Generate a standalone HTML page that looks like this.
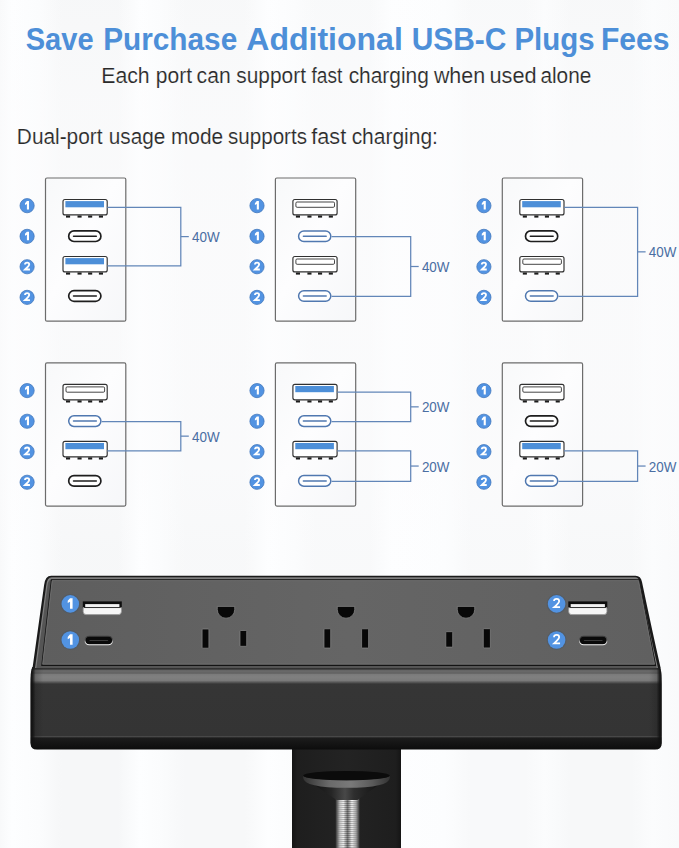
<!DOCTYPE html>
<html><head><meta charset="utf-8"><style>
html,body{margin:0;padding:0;background:#fafafa;}
svg{display:block;font-family:"Liberation Sans",sans-serif;}
</style></head><body>
<svg width="679" height="848" viewBox="0 0 679 848">
<defs>
<linearGradient id="bg" x1="0" y1="0" x2="1" y2="0"><stop offset="0.0000" stop-color="rgb(248,249,250)"/><stop offset="0.0177" stop-color="rgb(253,254,255)"/><stop offset="0.0589" stop-color="rgb(251,252,253)"/><stop offset="0.0913" stop-color="rgb(246,247,248)"/><stop offset="0.1738" stop-color="rgb(246,247,248)"/><stop offset="0.2062" stop-color="rgb(253,254,255)"/><stop offset="0.2356" stop-color="rgb(251,252,253)"/><stop offset="0.2725" stop-color="rgb(247,248,249)"/><stop offset="0.3608" stop-color="rgb(247,248,249)"/><stop offset="0.3947" stop-color="rgb(253,254,255)"/><stop offset="0.4345" stop-color="rgb(251,252,253)"/><stop offset="0.4639" stop-color="rgb(248,249,250)"/><stop offset="0.5449" stop-color="rgb(248,249,250)"/><stop offset="0.5773" stop-color="rgb(253,254,255)"/><stop offset="0.6554" stop-color="rgb(252,253,254)"/><stop offset="0.6922" stop-color="rgb(248,249,250)"/><stop offset="0.7732" stop-color="rgb(248,249,250)"/><stop offset="0.8027" stop-color="rgb(251,252,253)"/><stop offset="0.8395" stop-color="rgb(247,248,249)"/><stop offset="0.9308" stop-color="rgb(247,248,249)"/><stop offset="0.9602" stop-color="rgb(251,252,253)"/><stop offset="1.0000" stop-color="rgb(249,250,251)"/></linearGradient>
<linearGradient id="boxg" x1="0" y1="0" x2="1" y2="1"><stop offset="0" stop-color="#f8f9fa"/><stop offset="0.45" stop-color="#fdfdfe"/><stop offset="1" stop-color="#f6f7f9"/></linearGradient>
<linearGradient id="frontg" x1="0" y1="667" x2="0" y2="749.6" gradientUnits="userSpaceOnUse"><stop offset="0.0000" stop-color="#303030"/><stop offset="0.0157" stop-color="#3a3a3a"/><stop offset="0.0303" stop-color="#444444"/><stop offset="0.0387" stop-color="#646464"/><stop offset="0.0630" stop-color="#6a6a6a"/><stop offset="0.0726" stop-color="#5a5a5a"/><stop offset="0.0872" stop-color="#7a7a7a"/><stop offset="0.1211" stop-color="#808080"/><stop offset="0.1634" stop-color="#7a7a7a"/><stop offset="0.2058" stop-color="#363636"/><stop offset="0.2785" stop-color="#353535"/><stop offset="0.8305" stop-color="#343434"/><stop offset="0.8426" stop-color="#4a4a4a"/><stop offset="0.8596" stop-color="#1c1c1c"/><stop offset="1.0000" stop-color="#0c0c0c"/></linearGradient>
<linearGradient id="topg" x1="0" y1="0" x2="1" y2="0"><stop offset="0" stop-color="#5e5e5e"/><stop offset="0.5" stop-color="#656565"/><stop offset="1" stop-color="#606060"/></linearGradient>
<linearGradient id="clampg" x1="0" y1="0" x2="1" y2="0"><stop offset="0" stop-color="#151515"/><stop offset="0.05" stop-color="#1e1e1e"/><stop offset="0.5" stop-color="#232323"/><stop offset="0.95" stop-color="#1e1e1e"/><stop offset="1" stop-color="#151515"/></linearGradient>
<linearGradient id="screwg" x1="0" y1="0" x2="1" y2="0"><stop offset="0" stop-color="#333"/><stop offset="0.18" stop-color="#ddd"/><stop offset="0.32" stop-color="#fff"/><stop offset="0.5" stop-color="#777"/><stop offset="0.68" stop-color="#fff"/><stop offset="0.85" stop-color="#bbb"/><stop offset="1" stop-color="#333"/></linearGradient>
<linearGradient id="rimg" x1="0" y1="0" x2="1" y2="0"><stop offset="0" stop-color="#333"/><stop offset="0.3" stop-color="#6a6a6a"/><stop offset="0.55" stop-color="#7a7a7a"/><stop offset="0.8" stop-color="#5a5a5a"/><stop offset="1" stop-color="#333"/></linearGradient>
<linearGradient id="coneg" x1="0" y1="0" x2="1" y2="0"><stop offset="0" stop-color="#0e0e0e"/><stop offset="0.3" stop-color="#262626"/><stop offset="0.48" stop-color="#484848"/><stop offset="0.6" stop-color="#2e2e2e"/><stop offset="1" stop-color="#0e0e0e"/></linearGradient>
<linearGradient id="usbcg" x1="0" y1="0" x2="0" y2="1"><stop offset="0" stop-color="#3a3a3a"/><stop offset="0.45" stop-color="#555"/><stop offset="0.75" stop-color="#e0e0e0"/><stop offset="1" stop-color="#f0f0f0"/></linearGradient>
<linearGradient id="edgeg" x1="30.6" y1="0" x2="661.6" y2="0" gradientUnits="userSpaceOnUse"><stop offset="0" stop-color="#111" stop-opacity="1"/><stop offset="0.0035" stop-color="#111" stop-opacity="0.85"/><stop offset="0.008" stop-color="#111" stop-opacity="0.2"/><stop offset="0.02" stop-color="#111" stop-opacity="0"/><stop offset="0.98" stop-color="#111" stop-opacity="0"/><stop offset="0.992" stop-color="#111" stop-opacity="0.2"/><stop offset="0.9965" stop-color="#111" stop-opacity="0.85"/><stop offset="1" stop-color="#111" stop-opacity="1"/></linearGradient>
<linearGradient id="bgmask" x1="0" y1="0" x2="0" y2="1"><stop offset="0" stop-color="#fcfcfd" stop-opacity="0.1"/><stop offset="0.12" stop-color="#fcfcfd" stop-opacity="0.45"/><stop offset="0.3" stop-color="#fcfcfd" stop-opacity="0.6"/><stop offset="0.55" stop-color="#fcfcfd" stop-opacity="0.5"/><stop offset="0.65" stop-color="#fcfcfd" stop-opacity="0.1"/><stop offset="1" stop-color="#fcfcfd" stop-opacity="0"/></linearGradient>
</defs>
<rect x="0" y="0" width="679" height="848" fill="url(#bg)"/>
<rect x="0" y="0" width="679" height="848" fill="url(#bgmask)"/>
<text x="25.69" y="50" font-size="32" font-weight="bold" fill="#4d8fd8" textLength="67.88" lengthAdjust="spacingAndGlyphs">Save</text><text x="103.14" y="50" font-size="32" font-weight="bold" fill="#4d8fd8" textLength="134.06" lengthAdjust="spacingAndGlyphs">Purchase</text><text x="246.30" y="50" font-size="32" font-weight="bold" fill="#4d8fd8" textLength="156.52" lengthAdjust="spacingAndGlyphs">Additional</text><text x="411.63" y="50" font-size="32" font-weight="bold" fill="#4d8fd8" textLength="94.81" lengthAdjust="spacingAndGlyphs">USB-C</text><text x="514.46" y="50" font-size="32" font-weight="bold" fill="#4d8fd8" textLength="80.18" lengthAdjust="spacingAndGlyphs">Plugs</text><text x="600.92" y="50" font-size="32" font-weight="bold" fill="#4d8fd8" textLength="68.67" lengthAdjust="spacingAndGlyphs">Fees</text>
<text x="101.23" y="82.6" font-size="21.6" font-weight="normal" fill="#2a2a2a" textLength="48.47" lengthAdjust="spacingAndGlyphs" stroke="#fafbfc" stroke-width="0.15">Each</text><text x="155.83" y="82.6" font-size="21.6" font-weight="normal" fill="#2a2a2a" textLength="36.18" lengthAdjust="spacingAndGlyphs" stroke="#fafbfc" stroke-width="0.15">port</text><text x="196.62" y="82.6" font-size="21.6" font-weight="normal" fill="#2a2a2a" textLength="34.07" lengthAdjust="spacingAndGlyphs" stroke="#fafbfc" stroke-width="0.15">can</text><text x="236.33" y="82.6" font-size="21.6" font-weight="normal" fill="#2a2a2a" textLength="69.60" lengthAdjust="spacingAndGlyphs" stroke="#fafbfc" stroke-width="0.15">support</text><text x="311.50" y="82.6" font-size="21.6" font-weight="normal" fill="#2a2a2a" textLength="30.73" lengthAdjust="spacingAndGlyphs" stroke="#fafbfc" stroke-width="0.15">fast</text><text x="348.63" y="82.6" font-size="21.6" font-weight="normal" fill="#2a2a2a" textLength="80.15" lengthAdjust="spacingAndGlyphs" stroke="#fafbfc" stroke-width="0.15">charging</text><text x="433.90" y="82.6" font-size="21.6" font-weight="normal" fill="#2a2a2a" textLength="51.21" lengthAdjust="spacingAndGlyphs" stroke="#fafbfc" stroke-width="0.15">when</text><text x="489.49" y="82.6" font-size="21.6" font-weight="normal" fill="#2a2a2a" textLength="47.15" lengthAdjust="spacingAndGlyphs" stroke="#fafbfc" stroke-width="0.15">used</text><text x="540.44" y="82.6" font-size="21.6" font-weight="normal" fill="#2a2a2a" textLength="50.88" lengthAdjust="spacingAndGlyphs" stroke="#fafbfc" stroke-width="0.15">alone</text>
<text x="16.87" y="143.8" font-size="21.6" font-weight="normal" fill="#2a2a2a" textLength="85.65" lengthAdjust="spacingAndGlyphs" stroke="#fafbfc" stroke-width="0.15">Dual-port</text><text x="108.74" y="143.8" font-size="21.6" font-weight="normal" fill="#2a2a2a" textLength="56.57" lengthAdjust="spacingAndGlyphs" stroke="#fafbfc" stroke-width="0.15">usage</text><text x="170.93" y="143.8" font-size="21.6" font-weight="normal" fill="#2a2a2a" textLength="52.26" lengthAdjust="spacingAndGlyphs" stroke="#fafbfc" stroke-width="0.15">mode</text><text x="228.05" y="143.8" font-size="21.6" font-weight="normal" fill="#2a2a2a" textLength="78.94" lengthAdjust="spacingAndGlyphs" stroke="#fafbfc" stroke-width="0.15">supports</text><text x="311.30" y="143.8" font-size="21.6" font-weight="normal" fill="#2a2a2a" textLength="34.91" lengthAdjust="spacingAndGlyphs" stroke="#fafbfc" stroke-width="0.15">fast</text><text x="351.63" y="143.8" font-size="21.6" font-weight="normal" fill="#2a2a2a" textLength="86.26" lengthAdjust="spacingAndGlyphs" stroke="#fafbfc" stroke-width="0.15">charging:</text>
<rect x="45.5" y="178.0" width="80.3" height="143.2" rx="1.5" fill="url(#boxg)" stroke="#6c6c6c" stroke-width="1.2"/><circle cx="27.1" cy="205.7" r="7.10" fill="#5293e2" stroke="#4479bd" stroke-width="0.8"/><path transform="translate(27.20 205.70) scale(1.0)" d="M-0.3 -4.65 H1.8 V3.9 H-0.3 V-1.7 L-2.2 -0.7 V-2.55 Z" fill="#fff"/><circle cx="27.1" cy="236.35" r="7.10" fill="#5293e2" stroke="#4479bd" stroke-width="0.8"/><path transform="translate(27.20 236.35) scale(1.0)" d="M-0.3 -4.65 H1.8 V3.9 H-0.3 V-1.7 L-2.2 -0.7 V-2.55 Z" fill="#fff"/><circle cx="27.1" cy="266.75" r="7.10" fill="#5293e2" stroke="#4479bd" stroke-width="0.8"/><path transform="translate(27.20 266.75) scale(1.0)" d="M-2.2 -2.3 C-2.2 -3.9 -1.1 -4.2 0 -4.2 C1.2 -4.2 2.0 -3.45 2.0 -2.25 C2.0 -0.95 1.0 -0.2 -2.1 2.7 H2.75" fill="none" stroke="#fff" stroke-width="1.85" stroke-linejoin="miter"/><circle cx="27.1" cy="297.35" r="7.10" fill="#5293e2" stroke="#4479bd" stroke-width="0.8"/><path transform="translate(27.20 297.35) scale(1.0)" d="M-2.2 -2.3 C-2.2 -3.9 -1.1 -4.2 0 -4.2 C1.2 -4.2 2.0 -3.45 2.0 -2.25 C2.0 -0.95 1.0 -0.2 -2.1 2.7 H2.75" fill="none" stroke="#fff" stroke-width="1.85" stroke-linejoin="miter"/><rect x="63.00" y="199.50" width="44.2" height="15.4" rx="2" fill="#fff" stroke="#303030" stroke-width="1.15"/><rect x="66.00" y="215.50" width="4.1" height="2.1" fill="#1c1c1c"/><rect x="77.50" y="215.50" width="4.1" height="2.1" fill="#1c1c1c"/><rect x="88.10" y="215.50" width="4.1" height="2.1" fill="#1c1c1c"/><rect x="98.90" y="215.50" width="4.1" height="2.1" fill="#1c1c1c"/><rect x="65.40" y="201.10" width="38.6" height="6.2" fill="#4d8fd8"/><rect x="68.70" y="230.90" width="32.2" height="10.6" rx="5.3" fill="#fff" stroke="#1e1e1e" stroke-width="1.7"/><line x1="73.50" y1="236.20" x2="96.30" y2="236.20" stroke="#1e1e1e" stroke-width="1.5" stroke-linecap="round"/><rect x="63.00" y="256.50" width="44.2" height="15.4" rx="2" fill="#fff" stroke="#303030" stroke-width="1.15"/><rect x="66.00" y="272.50" width="4.1" height="2.1" fill="#1c1c1c"/><rect x="77.50" y="272.50" width="4.1" height="2.1" fill="#1c1c1c"/><rect x="88.10" y="272.50" width="4.1" height="2.1" fill="#1c1c1c"/><rect x="98.90" y="272.50" width="4.1" height="2.1" fill="#1c1c1c"/><rect x="65.40" y="258.10" width="38.6" height="6.2" fill="#4d8fd8"/><rect x="68.70" y="290.70" width="32.2" height="10.6" rx="5.3" fill="#fff" stroke="#1e1e1e" stroke-width="1.7"/><line x1="73.50" y1="296.00" x2="96.30" y2="296.00" stroke="#1e1e1e" stroke-width="1.5" stroke-linecap="round"/><path d="M107.30 207.30 H180.80 V265.90 H107.30" fill="none" stroke="#6286b8" stroke-width="1.25"/><line x1="180.80" y1="236.60" x2="188.80" y2="236.60" stroke="#6286b8" stroke-width="1.25"/><text x="192.00" y="242.20" font-size="14" fill="#4a6ea3" textLength="27.6" lengthAdjust="spacingAndGlyphs">40W</text>
<rect x="275.4" y="178.0" width="80.3" height="143.2" rx="1.5" fill="url(#boxg)" stroke="#6c6c6c" stroke-width="1.2"/><circle cx="257.0" cy="205.7" r="7.10" fill="#5293e2" stroke="#4479bd" stroke-width="0.8"/><path transform="translate(257.10 205.70) scale(1.0)" d="M-0.3 -4.65 H1.8 V3.9 H-0.3 V-1.7 L-2.2 -0.7 V-2.55 Z" fill="#fff"/><circle cx="257.0" cy="236.35" r="7.10" fill="#5293e2" stroke="#4479bd" stroke-width="0.8"/><path transform="translate(257.10 236.35) scale(1.0)" d="M-0.3 -4.65 H1.8 V3.9 H-0.3 V-1.7 L-2.2 -0.7 V-2.55 Z" fill="#fff"/><circle cx="257.0" cy="266.75" r="7.10" fill="#5293e2" stroke="#4479bd" stroke-width="0.8"/><path transform="translate(257.10 266.75) scale(1.0)" d="M-2.2 -2.3 C-2.2 -3.9 -1.1 -4.2 0 -4.2 C1.2 -4.2 2.0 -3.45 2.0 -2.25 C2.0 -0.95 1.0 -0.2 -2.1 2.7 H2.75" fill="none" stroke="#fff" stroke-width="1.85" stroke-linejoin="miter"/><circle cx="257.0" cy="297.35" r="7.10" fill="#5293e2" stroke="#4479bd" stroke-width="0.8"/><path transform="translate(257.10 297.35) scale(1.0)" d="M-2.2 -2.3 C-2.2 -3.9 -1.1 -4.2 0 -4.2 C1.2 -4.2 2.0 -3.45 2.0 -2.25 C2.0 -0.95 1.0 -0.2 -2.1 2.7 H2.75" fill="none" stroke="#fff" stroke-width="1.85" stroke-linejoin="miter"/><rect x="292.90" y="199.50" width="44.2" height="15.4" rx="2" fill="#fff" stroke="#303030" stroke-width="1.15"/><rect x="295.90" y="215.50" width="4.1" height="2.1" fill="#1c1c1c"/><rect x="307.40" y="215.50" width="4.1" height="2.1" fill="#1c1c1c"/><rect x="318.00" y="215.50" width="4.1" height="2.1" fill="#1c1c1c"/><rect x="328.80" y="215.50" width="4.1" height="2.1" fill="#1c1c1c"/><rect x="295.90" y="202.00" width="38.6" height="5.3" rx="1.2" fill="#fff" stroke="#3c3c3c" stroke-width="0.95"/><rect x="298.60" y="230.90" width="32.2" height="10.6" rx="5.3" fill="#fff" stroke="#5078b0" stroke-width="1.5"/><line x1="303.40" y1="236.20" x2="326.20" y2="236.20" stroke="#5078b0" stroke-width="1.5" stroke-linecap="round"/><rect x="292.90" y="256.50" width="44.2" height="15.4" rx="2" fill="#fff" stroke="#303030" stroke-width="1.15"/><rect x="295.90" y="272.50" width="4.1" height="2.1" fill="#1c1c1c"/><rect x="307.40" y="272.50" width="4.1" height="2.1" fill="#1c1c1c"/><rect x="318.00" y="272.50" width="4.1" height="2.1" fill="#1c1c1c"/><rect x="328.80" y="272.50" width="4.1" height="2.1" fill="#1c1c1c"/><rect x="295.90" y="259.00" width="38.6" height="5.3" rx="1.2" fill="#fff" stroke="#3c3c3c" stroke-width="0.95"/><rect x="298.60" y="290.70" width="32.2" height="10.6" rx="5.3" fill="#fff" stroke="#5078b0" stroke-width="1.5"/><line x1="303.40" y1="296.00" x2="326.20" y2="296.00" stroke="#5078b0" stroke-width="1.5" stroke-linecap="round"/><path d="M331.60 236.60 H410.70 V296.40 H331.60" fill="none" stroke="#6286b8" stroke-width="1.25"/><line x1="410.70" y1="266.50" x2="418.70" y2="266.50" stroke="#6286b8" stroke-width="1.25"/><text x="421.90" y="272.10" font-size="14" fill="#4a6ea3" textLength="27.6" lengthAdjust="spacingAndGlyphs">40W</text>
<rect x="502.3" y="178.0" width="80.3" height="143.2" rx="1.5" fill="url(#boxg)" stroke="#6c6c6c" stroke-width="1.2"/><circle cx="483.90000000000003" cy="205.7" r="7.10" fill="#5293e2" stroke="#4479bd" stroke-width="0.8"/><path transform="translate(484.00 205.70) scale(1.0)" d="M-0.3 -4.65 H1.8 V3.9 H-0.3 V-1.7 L-2.2 -0.7 V-2.55 Z" fill="#fff"/><circle cx="483.90000000000003" cy="236.35" r="7.10" fill="#5293e2" stroke="#4479bd" stroke-width="0.8"/><path transform="translate(484.00 236.35) scale(1.0)" d="M-0.3 -4.65 H1.8 V3.9 H-0.3 V-1.7 L-2.2 -0.7 V-2.55 Z" fill="#fff"/><circle cx="483.90000000000003" cy="266.75" r="7.10" fill="#5293e2" stroke="#4479bd" stroke-width="0.8"/><path transform="translate(484.00 266.75) scale(1.0)" d="M-2.2 -2.3 C-2.2 -3.9 -1.1 -4.2 0 -4.2 C1.2 -4.2 2.0 -3.45 2.0 -2.25 C2.0 -0.95 1.0 -0.2 -2.1 2.7 H2.75" fill="none" stroke="#fff" stroke-width="1.85" stroke-linejoin="miter"/><circle cx="483.90000000000003" cy="297.35" r="7.10" fill="#5293e2" stroke="#4479bd" stroke-width="0.8"/><path transform="translate(484.00 297.35) scale(1.0)" d="M-2.2 -2.3 C-2.2 -3.9 -1.1 -4.2 0 -4.2 C1.2 -4.2 2.0 -3.45 2.0 -2.25 C2.0 -0.95 1.0 -0.2 -2.1 2.7 H2.75" fill="none" stroke="#fff" stroke-width="1.85" stroke-linejoin="miter"/><rect x="519.80" y="199.50" width="44.2" height="15.4" rx="2" fill="#fff" stroke="#303030" stroke-width="1.15"/><rect x="522.80" y="215.50" width="4.1" height="2.1" fill="#1c1c1c"/><rect x="534.30" y="215.50" width="4.1" height="2.1" fill="#1c1c1c"/><rect x="544.90" y="215.50" width="4.1" height="2.1" fill="#1c1c1c"/><rect x="555.70" y="215.50" width="4.1" height="2.1" fill="#1c1c1c"/><rect x="522.20" y="201.10" width="38.6" height="6.2" fill="#4d8fd8"/><rect x="525.50" y="230.90" width="32.2" height="10.6" rx="5.3" fill="#fff" stroke="#1e1e1e" stroke-width="1.7"/><line x1="530.30" y1="236.20" x2="553.10" y2="236.20" stroke="#1e1e1e" stroke-width="1.5" stroke-linecap="round"/><rect x="519.80" y="256.50" width="44.2" height="15.4" rx="2" fill="#fff" stroke="#303030" stroke-width="1.15"/><rect x="522.80" y="272.50" width="4.1" height="2.1" fill="#1c1c1c"/><rect x="534.30" y="272.50" width="4.1" height="2.1" fill="#1c1c1c"/><rect x="544.90" y="272.50" width="4.1" height="2.1" fill="#1c1c1c"/><rect x="555.70" y="272.50" width="4.1" height="2.1" fill="#1c1c1c"/><rect x="522.80" y="259.00" width="38.6" height="5.3" rx="1.2" fill="#fff" stroke="#3c3c3c" stroke-width="0.95"/><rect x="525.50" y="290.70" width="32.2" height="10.6" rx="5.3" fill="#fff" stroke="#5078b0" stroke-width="1.5"/><line x1="530.30" y1="296.00" x2="553.10" y2="296.00" stroke="#5078b0" stroke-width="1.5" stroke-linecap="round"/><path d="M564.10 207.30 H637.60 V296.40 H558.50" fill="none" stroke="#6286b8" stroke-width="1.25"/><line x1="637.60" y1="251.85" x2="645.60" y2="251.85" stroke="#6286b8" stroke-width="1.25"/><text x="648.80" y="257.45" font-size="14" fill="#4a6ea3" textLength="27.6" lengthAdjust="spacingAndGlyphs">40W</text>
<rect x="45.5" y="362.9" width="80.3" height="143.2" rx="1.5" fill="url(#boxg)" stroke="#6c6c6c" stroke-width="1.2"/><circle cx="27.1" cy="390.59999999999997" r="7.10" fill="#5293e2" stroke="#4479bd" stroke-width="0.8"/><path transform="translate(27.20 390.60) scale(1.0)" d="M-0.3 -4.65 H1.8 V3.9 H-0.3 V-1.7 L-2.2 -0.7 V-2.55 Z" fill="#fff"/><circle cx="27.1" cy="421.25" r="7.10" fill="#5293e2" stroke="#4479bd" stroke-width="0.8"/><path transform="translate(27.20 421.25) scale(1.0)" d="M-0.3 -4.65 H1.8 V3.9 H-0.3 V-1.7 L-2.2 -0.7 V-2.55 Z" fill="#fff"/><circle cx="27.1" cy="451.65" r="7.10" fill="#5293e2" stroke="#4479bd" stroke-width="0.8"/><path transform="translate(27.20 451.65) scale(1.0)" d="M-2.2 -2.3 C-2.2 -3.9 -1.1 -4.2 0 -4.2 C1.2 -4.2 2.0 -3.45 2.0 -2.25 C2.0 -0.95 1.0 -0.2 -2.1 2.7 H2.75" fill="none" stroke="#fff" stroke-width="1.85" stroke-linejoin="miter"/><circle cx="27.1" cy="482.25" r="7.10" fill="#5293e2" stroke="#4479bd" stroke-width="0.8"/><path transform="translate(27.20 482.25) scale(1.0)" d="M-2.2 -2.3 C-2.2 -3.9 -1.1 -4.2 0 -4.2 C1.2 -4.2 2.0 -3.45 2.0 -2.25 C2.0 -0.95 1.0 -0.2 -2.1 2.7 H2.75" fill="none" stroke="#fff" stroke-width="1.85" stroke-linejoin="miter"/><rect x="63.00" y="384.40" width="44.2" height="15.4" rx="2" fill="#fff" stroke="#303030" stroke-width="1.15"/><rect x="66.00" y="400.40" width="4.1" height="2.1" fill="#1c1c1c"/><rect x="77.50" y="400.40" width="4.1" height="2.1" fill="#1c1c1c"/><rect x="88.10" y="400.40" width="4.1" height="2.1" fill="#1c1c1c"/><rect x="98.90" y="400.40" width="4.1" height="2.1" fill="#1c1c1c"/><rect x="66.00" y="386.90" width="38.6" height="5.3" rx="1.2" fill="#fff" stroke="#3c3c3c" stroke-width="0.95"/><rect x="68.70" y="415.80" width="32.2" height="10.6" rx="5.3" fill="#fff" stroke="#5078b0" stroke-width="1.5"/><line x1="73.50" y1="421.10" x2="96.30" y2="421.10" stroke="#5078b0" stroke-width="1.5" stroke-linecap="round"/><rect x="63.00" y="441.40" width="44.2" height="15.4" rx="2" fill="#fff" stroke="#303030" stroke-width="1.15"/><rect x="66.00" y="457.40" width="4.1" height="2.1" fill="#1c1c1c"/><rect x="77.50" y="457.40" width="4.1" height="2.1" fill="#1c1c1c"/><rect x="88.10" y="457.40" width="4.1" height="2.1" fill="#1c1c1c"/><rect x="98.90" y="457.40" width="4.1" height="2.1" fill="#1c1c1c"/><rect x="65.40" y="443.00" width="38.6" height="6.2" fill="#4d8fd8"/><rect x="68.70" y="475.60" width="32.2" height="10.6" rx="5.3" fill="#fff" stroke="#1e1e1e" stroke-width="1.7"/><line x1="73.50" y1="480.90" x2="96.30" y2="480.90" stroke="#1e1e1e" stroke-width="1.5" stroke-linecap="round"/><path d="M101.70 421.50 H180.80 V450.80 H107.30" fill="none" stroke="#6286b8" stroke-width="1.25"/><line x1="180.80" y1="436.15" x2="188.80" y2="436.15" stroke="#6286b8" stroke-width="1.25"/><text x="192.00" y="441.75" font-size="14" fill="#4a6ea3" textLength="27.6" lengthAdjust="spacingAndGlyphs">40W</text>
<rect x="275.4" y="362.9" width="80.3" height="143.2" rx="1.5" fill="url(#boxg)" stroke="#6c6c6c" stroke-width="1.2"/><circle cx="257.0" cy="390.59999999999997" r="7.10" fill="#5293e2" stroke="#4479bd" stroke-width="0.8"/><path transform="translate(257.10 390.60) scale(1.0)" d="M-0.3 -4.65 H1.8 V3.9 H-0.3 V-1.7 L-2.2 -0.7 V-2.55 Z" fill="#fff"/><circle cx="257.0" cy="421.25" r="7.10" fill="#5293e2" stroke="#4479bd" stroke-width="0.8"/><path transform="translate(257.10 421.25) scale(1.0)" d="M-0.3 -4.65 H1.8 V3.9 H-0.3 V-1.7 L-2.2 -0.7 V-2.55 Z" fill="#fff"/><circle cx="257.0" cy="451.65" r="7.10" fill="#5293e2" stroke="#4479bd" stroke-width="0.8"/><path transform="translate(257.10 451.65) scale(1.0)" d="M-2.2 -2.3 C-2.2 -3.9 -1.1 -4.2 0 -4.2 C1.2 -4.2 2.0 -3.45 2.0 -2.25 C2.0 -0.95 1.0 -0.2 -2.1 2.7 H2.75" fill="none" stroke="#fff" stroke-width="1.85" stroke-linejoin="miter"/><circle cx="257.0" cy="482.25" r="7.10" fill="#5293e2" stroke="#4479bd" stroke-width="0.8"/><path transform="translate(257.10 482.25) scale(1.0)" d="M-2.2 -2.3 C-2.2 -3.9 -1.1 -4.2 0 -4.2 C1.2 -4.2 2.0 -3.45 2.0 -2.25 C2.0 -0.95 1.0 -0.2 -2.1 2.7 H2.75" fill="none" stroke="#fff" stroke-width="1.85" stroke-linejoin="miter"/><rect x="292.90" y="384.40" width="44.2" height="15.4" rx="2" fill="#fff" stroke="#303030" stroke-width="1.15"/><rect x="295.90" y="400.40" width="4.1" height="2.1" fill="#1c1c1c"/><rect x="307.40" y="400.40" width="4.1" height="2.1" fill="#1c1c1c"/><rect x="318.00" y="400.40" width="4.1" height="2.1" fill="#1c1c1c"/><rect x="328.80" y="400.40" width="4.1" height="2.1" fill="#1c1c1c"/><rect x="295.30" y="386.00" width="38.6" height="6.2" fill="#4d8fd8"/><rect x="298.60" y="415.80" width="32.2" height="10.6" rx="5.3" fill="#fff" stroke="#5078b0" stroke-width="1.5"/><line x1="303.40" y1="421.10" x2="326.20" y2="421.10" stroke="#5078b0" stroke-width="1.5" stroke-linecap="round"/><rect x="292.90" y="441.40" width="44.2" height="15.4" rx="2" fill="#fff" stroke="#303030" stroke-width="1.15"/><rect x="295.90" y="457.40" width="4.1" height="2.1" fill="#1c1c1c"/><rect x="307.40" y="457.40" width="4.1" height="2.1" fill="#1c1c1c"/><rect x="318.00" y="457.40" width="4.1" height="2.1" fill="#1c1c1c"/><rect x="328.80" y="457.40" width="4.1" height="2.1" fill="#1c1c1c"/><rect x="295.30" y="443.00" width="38.6" height="6.2" fill="#4d8fd8"/><rect x="298.60" y="475.60" width="32.2" height="10.6" rx="5.3" fill="#fff" stroke="#5078b0" stroke-width="1.5"/><line x1="303.40" y1="480.90" x2="326.20" y2="480.90" stroke="#5078b0" stroke-width="1.5" stroke-linecap="round"/><path d="M337.20 392.20 H410.70 V421.50 H331.60" fill="none" stroke="#6286b8" stroke-width="1.25"/><line x1="410.70" y1="406.85" x2="418.70" y2="406.85" stroke="#6286b8" stroke-width="1.25"/><text x="421.90" y="412.45" font-size="14" fill="#4a6ea3" textLength="27.6" lengthAdjust="spacingAndGlyphs">20W</text><path d="M337.20 450.80 H410.70 V481.30 H331.60" fill="none" stroke="#6286b8" stroke-width="1.25"/><line x1="410.70" y1="466.05" x2="418.70" y2="466.05" stroke="#6286b8" stroke-width="1.25"/><text x="421.90" y="471.65" font-size="14" fill="#4a6ea3" textLength="27.6" lengthAdjust="spacingAndGlyphs">20W</text>
<rect x="502.3" y="362.9" width="80.3" height="143.2" rx="1.5" fill="url(#boxg)" stroke="#6c6c6c" stroke-width="1.2"/><circle cx="483.90000000000003" cy="390.59999999999997" r="7.10" fill="#5293e2" stroke="#4479bd" stroke-width="0.8"/><path transform="translate(484.00 390.60) scale(1.0)" d="M-0.3 -4.65 H1.8 V3.9 H-0.3 V-1.7 L-2.2 -0.7 V-2.55 Z" fill="#fff"/><circle cx="483.90000000000003" cy="421.25" r="7.10" fill="#5293e2" stroke="#4479bd" stroke-width="0.8"/><path transform="translate(484.00 421.25) scale(1.0)" d="M-0.3 -4.65 H1.8 V3.9 H-0.3 V-1.7 L-2.2 -0.7 V-2.55 Z" fill="#fff"/><circle cx="483.90000000000003" cy="451.65" r="7.10" fill="#5293e2" stroke="#4479bd" stroke-width="0.8"/><path transform="translate(484.00 451.65) scale(1.0)" d="M-2.2 -2.3 C-2.2 -3.9 -1.1 -4.2 0 -4.2 C1.2 -4.2 2.0 -3.45 2.0 -2.25 C2.0 -0.95 1.0 -0.2 -2.1 2.7 H2.75" fill="none" stroke="#fff" stroke-width="1.85" stroke-linejoin="miter"/><circle cx="483.90000000000003" cy="482.25" r="7.10" fill="#5293e2" stroke="#4479bd" stroke-width="0.8"/><path transform="translate(484.00 482.25) scale(1.0)" d="M-2.2 -2.3 C-2.2 -3.9 -1.1 -4.2 0 -4.2 C1.2 -4.2 2.0 -3.45 2.0 -2.25 C2.0 -0.95 1.0 -0.2 -2.1 2.7 H2.75" fill="none" stroke="#fff" stroke-width="1.85" stroke-linejoin="miter"/><rect x="519.80" y="384.40" width="44.2" height="15.4" rx="2" fill="#fff" stroke="#303030" stroke-width="1.15"/><rect x="522.80" y="400.40" width="4.1" height="2.1" fill="#1c1c1c"/><rect x="534.30" y="400.40" width="4.1" height="2.1" fill="#1c1c1c"/><rect x="544.90" y="400.40" width="4.1" height="2.1" fill="#1c1c1c"/><rect x="555.70" y="400.40" width="4.1" height="2.1" fill="#1c1c1c"/><rect x="522.80" y="386.90" width="38.6" height="5.3" rx="1.2" fill="#fff" stroke="#3c3c3c" stroke-width="0.95"/><rect x="525.50" y="415.80" width="32.2" height="10.6" rx="5.3" fill="#fff" stroke="#1e1e1e" stroke-width="1.7"/><line x1="530.30" y1="421.10" x2="553.10" y2="421.10" stroke="#1e1e1e" stroke-width="1.5" stroke-linecap="round"/><rect x="519.80" y="441.40" width="44.2" height="15.4" rx="2" fill="#fff" stroke="#303030" stroke-width="1.15"/><rect x="522.80" y="457.40" width="4.1" height="2.1" fill="#1c1c1c"/><rect x="534.30" y="457.40" width="4.1" height="2.1" fill="#1c1c1c"/><rect x="544.90" y="457.40" width="4.1" height="2.1" fill="#1c1c1c"/><rect x="555.70" y="457.40" width="4.1" height="2.1" fill="#1c1c1c"/><rect x="522.20" y="443.00" width="38.6" height="6.2" fill="#4d8fd8"/><rect x="525.50" y="475.60" width="32.2" height="10.6" rx="5.3" fill="#fff" stroke="#5078b0" stroke-width="1.5"/><line x1="530.30" y1="480.90" x2="553.10" y2="480.90" stroke="#5078b0" stroke-width="1.5" stroke-linecap="round"/><path d="M564.10 450.80 H637.60 V481.30 H558.50" fill="none" stroke="#6286b8" stroke-width="1.25"/><line x1="637.60" y1="466.05" x2="645.60" y2="466.05" stroke="#6286b8" stroke-width="1.25"/><text x="648.80" y="471.65" font-size="14" fill="#4a6ea3" textLength="27.6" lengthAdjust="spacingAndGlyphs">20W</text>


<!-- clamp body -->
<rect x="292" y="740" width="109" height="108" fill="url(#clampg)"/>
<!-- screw -->
<rect x="335.6" y="796" width="24" height="52" fill="url(#screwg)"/>
<g stroke="#2a2a2a" stroke-width="0.8" opacity="0.5">
<line x1="336" y1="801" x2="359" y2="802"/><line x1="336" y1="803" x2="359" y2="804"/><line x1="336" y1="805" x2="359" y2="806"/><line x1="336" y1="807" x2="359" y2="808"/><line x1="336" y1="809" x2="359" y2="810"/><line x1="336" y1="811" x2="359" y2="812"/><line x1="336" y1="813" x2="359" y2="814"/><line x1="336" y1="815" x2="359" y2="816"/><line x1="336" y1="817" x2="359" y2="818"/><line x1="336" y1="819" x2="359" y2="820"/><line x1="336" y1="821" x2="359" y2="822"/><line x1="336" y1="823" x2="359" y2="824"/><line x1="336" y1="825" x2="359" y2="826"/><line x1="336" y1="827" x2="359" y2="828"/><line x1="336" y1="829" x2="359" y2="830"/><line x1="336" y1="831" x2="359" y2="832"/><line x1="336" y1="833" x2="359" y2="834"/><line x1="336" y1="835" x2="359" y2="836"/><line x1="336" y1="837" x2="359" y2="838"/><line x1="336" y1="839" x2="359" y2="840"/><line x1="336" y1="841" x2="359" y2="842"/><line x1="336" y1="843" x2="359" y2="844"/><line x1="336" y1="845" x2="359" y2="846"/><line x1="336" y1="847" x2="359" y2="848"/></g>
<!-- disk -->
<path d="M309 781 L384 781 L357.5 800 L336.5 800 Z" fill="url(#coneg)"/>
<path d="M303.1 775.6 A43.4 4.6 0 0 0 389.9 775.6 L389.8 778 Q389 787.8 346.5 787.8 Q304 787.8 303.2 778 Z" fill="url(#rimg)"/>
<ellipse cx="346.5" cy="775.6" rx="43.4" ry="4.7" fill="#0b0b0b"/>
<!-- front face -->
<path d="M32.5 667 H659.8 Q661.6 670 661.6 680 V743 Q661.6 749.6 655 749.6 H37.2 Q30.6 749.6 30.6 743 V680 Q30.6 670 32.5 667 Z" fill="url(#frontg)"/>
<path d="M32.5 667 H659.8 Q661.6 670 661.6 680 V743 Q661.6 749.6 655 749.6 H37.2 Q30.6 749.6 30.6 743 V680 Q30.6 670 32.5 667 Z" fill="url(#edgeg)"/>
<!-- top face rim -->
<path d="M32.5 668.2 L44.1 585 Q45.2 575.8 51.2 575.8 H635.5 Q640.8 575.8 642 582 Q652 630 660.7 668.2 Z" fill="#1a1a1a"/>
<path d="M35 668 L46.2 585.6 Q47 577.3 51.8 577.3 H635 Q638.8 577.3 639.8 582.6 Q649 630 658 668 Z" fill="#7e7e7e"/>
<path d="M36.3 668 L47.4 586 Q48 579.3 52.2 579.3 H634.6 Q637.8 579.3 638.7 583 Q648 630 656.8 668 Z" fill="#555"/>
<path d="M41.2 666.1 L50.9 579.3 H639.6 L656.2 666.1 Z" fill="#141414"/>
<path d="M42.6 664.3 L52.1 580.6 H638.6 L654.6 664.3 Z" fill="url(#topg)" stroke="#808080" stroke-width="0.7"/>
<path d="M217.3 606.4 H234.7 V609.6 A8.7 8.6 0 0 1 217.3 609.6 Z" fill="#080808" stroke="#8a8a8a" stroke-width="0.7"/><path d="M337.3 606.4 H354.7 V609.6 A8.7 8.6 0 0 1 337.3 609.6 Z" fill="#080808" stroke="#8a8a8a" stroke-width="0.7"/><path d="M457.3 606.4 H474.7 V609.6 A8.7 8.6 0 0 1 457.3 609.6 Z" fill="#080808" stroke="#8a8a8a" stroke-width="0.7"/><rect x="202.1" y="629" width="6.8" height="19.2" rx="0.8" fill="#080808" stroke="#8a8a8a" stroke-width="0.7"/><rect x="240" y="630.5" width="6.7" height="15.8" rx="0.8" fill="#080808" stroke="#8a8a8a" stroke-width="0.7"/><rect x="324" y="628.8" width="6.7" height="19.2" rx="0.8" fill="#080808" stroke="#8a8a8a" stroke-width="0.7"/><rect x="361.6" y="628.8" width="7.0" height="19.2" rx="0.8" fill="#080808" stroke="#8a8a8a" stroke-width="0.7"/><rect x="445.8" y="631.7" width="6.9" height="15.4" rx="0.8" fill="#080808" stroke="#8a8a8a" stroke-width="0.7"/><rect x="483.3" y="628.7" width="7.1" height="19.2" rx="0.8" fill="#080808" stroke="#8a8a8a" stroke-width="0.7"/><rect x="82.8" y="601.4" width="39" height="7" fill="#0e0e0e"/><path d="M83.2 607.6 H121.4 V611.5 Q121.4 614.6 118.4 614.6 H86.2 Q83.2 614.6 83.2 611.5 Z" fill="#f6f6f6" stroke="#9a9a9a" stroke-width="0.8"/><rect x="85.2" y="604.1" width="34.2" height="3" fill="#f2f2f2"/><rect x="84.0" y="607.1" width="36.6" height="0.9" fill="#2a2a2a"/><circle cx="70.3" cy="603.9" r="9.9" fill="#4a5866" opacity="0.55"/><circle cx="70.3" cy="603.9" r="8.8" fill="#5293e2"/><path transform="translate(70.40 603.90) scale(1.22)" d="M-0.3 -4.65 H1.8 V3.9 H-0.3 V-1.7 L-2.2 -0.7 V-2.55 Z" fill="#fff"/><rect x="568.3" y="601.4" width="39" height="7" fill="#0e0e0e"/><path d="M568.6999999999999 607.6 H606.9 V611.5 Q606.9 614.6 603.9 614.6 H571.6999999999999 Q568.6999999999999 614.6 568.6999999999999 611.5 Z" fill="#f6f6f6" stroke="#9a9a9a" stroke-width="0.8"/><rect x="570.6999999999999" y="604.1" width="34.2" height="3" fill="#f2f2f2"/><rect x="569.5" y="607.1" width="36.6" height="0.9" fill="#2a2a2a"/><circle cx="556.6" cy="603.9" r="9.9" fill="#4a5866" opacity="0.55"/><circle cx="556.6" cy="603.9" r="8.8" fill="#5293e2"/><path transform="translate(556.70 603.90) scale(1.22)" d="M-2.2 -2.3 C-2.2 -3.9 -1.1 -4.2 0 -4.2 C1.2 -4.2 2.0 -3.45 2.0 -2.25 C2.0 -0.95 1.0 -0.2 -2.1 2.7 H2.75" fill="none" stroke="#fff" stroke-width="1.45" stroke-linejoin="miter"/><rect x="85.0" y="636.2" width="27.6" height="8.6" rx="4.3" fill="#0a0a0a" stroke="url(#usbcg)" stroke-width="1.1"/><line x1="90.0" y1="640.5" x2="107.6" y2="640.5" stroke="#3a3a3a" stroke-width="1.2" stroke-linecap="round"/><circle cx="70.3" cy="640" r="9.9" fill="#4a5866" opacity="0.55"/><circle cx="70.3" cy="640" r="8.8" fill="#5293e2"/><path transform="translate(70.40 640.00) scale(1.22)" d="M-0.3 -4.65 H1.8 V3.9 H-0.3 V-1.7 L-2.2 -0.7 V-2.55 Z" fill="#fff"/><rect x="579.4" y="636.2" width="27.6" height="8.6" rx="4.3" fill="#0a0a0a" stroke="url(#usbcg)" stroke-width="1.1"/><line x1="584.4" y1="640.5" x2="602.0" y2="640.5" stroke="#3a3a3a" stroke-width="1.2" stroke-linecap="round"/><circle cx="556.6" cy="640" r="9.9" fill="#4a5866" opacity="0.55"/><circle cx="556.6" cy="640" r="8.8" fill="#5293e2"/><path transform="translate(556.70 640.00) scale(1.22)" d="M-2.2 -2.3 C-2.2 -3.9 -1.1 -4.2 0 -4.2 C1.2 -4.2 2.0 -3.45 2.0 -2.25 C2.0 -0.95 1.0 -0.2 -2.1 2.7 H2.75" fill="none" stroke="#fff" stroke-width="1.45" stroke-linejoin="miter"/>
</svg>
</body></html>
